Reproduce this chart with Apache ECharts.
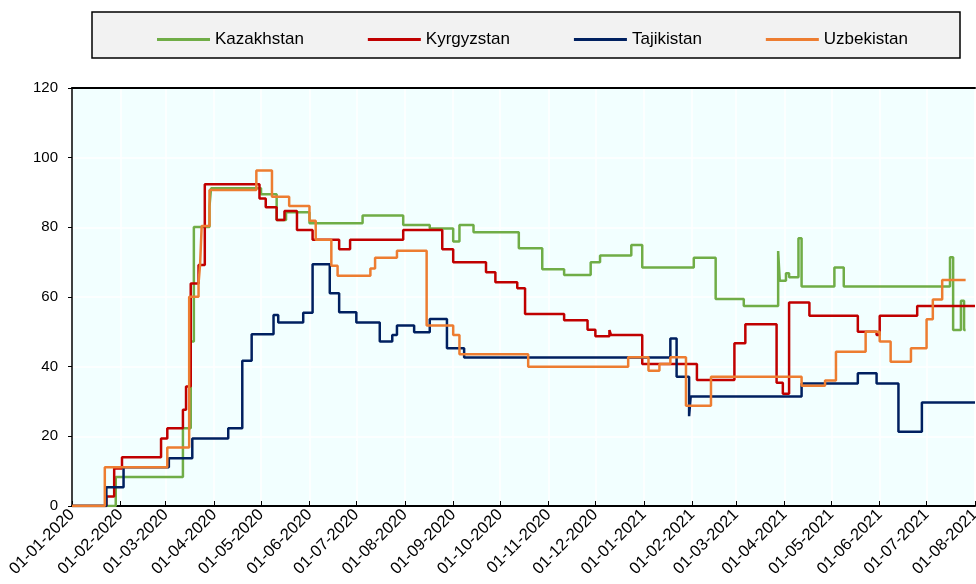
<!DOCTYPE html>
<html>
<head>
<meta charset="utf-8">
<script src="https://cdn.jsdelivr.net/npm/echarts@6/dist/echarts.min.js"></script>
<style>
  html, body { margin: 0; padding: 0; background: #fff; }
  #chart { width: 976px; height: 584px; }
</style>
</head>
<body>
<div id="chart"></div>
<script>
// change points: [date the value starts, value]; drawn as step lines
var kazakhstan = [
  ['2020-01-01', 0], ['2020-01-29', 8.3], ['2020-03-12', 22.3], ['2020-03-17', 47.2],
  ['2020-03-19', 80.1], ['2020-03-29', 86], ['2020-03-30', 91.2], ['2020-05-01', 89.5],
  ['2020-05-11', 82.1], ['2020-05-17', 84.3], ['2020-06-01', 81.2], ['2020-07-05', 83.4],
  ['2020-07-31', 80.7], ['2020-08-17', 79.7], ['2020-09-01', 75.9], ['2020-09-05', 80.7],
  ['2020-09-14', 78.6], ['2020-10-13', 74.0], ['2020-10-28', 68.0], ['2020-11-11', 66.3],
  ['2020-11-28', 70.0], ['2020-12-04', 71.9], ['2020-12-24', 74.9], ['2020-12-31', 68.5],
  ['2021-02-02', 71.3], ['2021-02-16', 59.4], ['2021-03-06', 57.4], ['2021-03-28', 73.2],
  ['2021-03-29', 64.7], ['2021-04-02', 66.8], ['2021-04-04', 65.7], ['2021-04-10', 76.9],
  ['2021-04-12', 63.0], ['2021-05-03', 68.5], ['2021-05-09', 63.0], ['2021-07-16', 71.4],
  ['2021-07-18', 50.5], ['2021-07-23', 58.9], ['2021-07-25', 50.5], ['2021-07-26', 50.5]
];
var kyrgyzstan = [
  ['2020-01-01', 0], ['2020-01-23', 2.7], ['2020-01-28', 10.8], ['2020-02-02', 14.0],
  ['2020-02-27', 19.4], ['2020-03-02', 22.3], ['2020-03-12', 27.6], ['2020-03-14', 34.3],
  ['2020-03-17', 63.9], ['2020-03-22', 69.2], ['2020-03-26', 92.4], ['2020-04-30', 88.3],
  ['2020-05-04', 85.8], ['2020-05-11', 82.1], ['2020-05-16', 84.7], ['2020-05-24', 79.2],
  ['2020-06-03', 76.4], ['2020-06-20', 73.7], ['2020-06-27', 76.4], ['2020-07-31', 79.2],
  ['2020-08-25', 73.7], ['2020-09-01', 70.0], ['2020-09-22', 67.1], ['2020-09-28', 64.2],
  ['2020-10-12', 62.5], ['2020-10-17', 55.1], ['2020-11-11', 53.3], ['2020-11-26', 50.6],
  ['2020-12-01', 48.7], ['2020-12-10', 50.5], ['2020-12-11', 49.1], ['2020-12-31', 40.8],
  ['2021-02-04', 36.2], ['2021-02-28', 46.7], ['2021-03-07', 52.2], ['2021-03-27', 35.4],
  ['2021-03-31', 32.2], ['2021-04-04', 58.4], ['2021-04-17', 54.6], ['2021-05-18', 50.0],
  ['2021-05-30', 49.1], ['2021-06-01', 54.6], ['2021-06-25', 57.4], ['2021-08-01', 57.4]
];
var tajikistan = [
  ['2020-01-01', 0], ['2020-01-23', 5.4], ['2020-02-03', 11.1], ['2020-03-03', 13.7],
  ['2020-03-18', 19.4], ['2020-04-10', 22.3], ['2020-04-19', 41.7], ['2020-04-25', 49.3],
  ['2020-05-09', 54.8], ['2020-05-12', 52.7], ['2020-05-28', 55.5], ['2020-06-03', 69.4],
  ['2020-06-14', 61.1], ['2020-06-20', 55.6], ['2020-07-01', 52.7], ['2020-07-16', 47.2],
  ['2020-07-24', 49.1], ['2020-07-27', 51.8], ['2020-08-07', 49.9], ['2020-08-17', 53.7],
  ['2020-08-28', 45.3], ['2020-09-08', 42.6], ['2021-01-18', 48.1], ['2021-01-22', 37.1],
  ['2021-01-30', 25.8], ['2021-01-31', 31.4], ['2021-04-12', 35.2], ['2021-05-18', 38.1],
  ['2021-05-30', 35.2], ['2021-06-13', 21.3], ['2021-06-28', 29.7], ['2021-08-01', 29.7]
];
var uzbekistan = [
  ['2020-01-01', 0], ['2020-01-22', 11.1], ['2020-03-02', 16.8], ['2020-03-16', 60.1],
  ['2020-03-22', 63.9], ['2020-03-23', 69.4], ['2020-03-24', 80.4], ['2020-03-29', 90.7],
  ['2020-04-28', 96.3], ['2020-05-08', 88.8], ['2020-05-19', 86.1], ['2020-06-01', 81.9],
  ['2020-06-05', 76.4], ['2020-06-15', 69.0], ['2020-06-19', 66.1], ['2020-07-10', 68.2],
  ['2020-07-13', 71.3], ['2020-07-27', 73.3], ['2020-08-15', 51.8], ['2020-09-01', 49.1],
  ['2020-09-05', 43.6], ['2020-10-19', 40.0], ['2020-12-22', 42.7], ['2021-01-04', 38.8],
  ['2021-01-11', 40.8], ['2021-01-18', 42.7], ['2021-01-28', 28.8], ['2021-02-13', 37.1],
  ['2021-04-12', 34.5], ['2021-04-27', 36.0], ['2021-05-04', 44.3], ['2021-05-23', 50.0],
  ['2021-06-01', 47.2], ['2021-06-08', 41.4], ['2021-06-21', 45.3], ['2021-07-01', 53.6],
  ['2021-07-05', 59.3], ['2021-07-11', 64.9], ['2021-07-26', 64.9]
];

var seriesNames = ['Kazakhstan', 'Kyrgyzstan', 'Tajikistan', 'Uzbekistan'];
var seriesData = [kazakhstan, kyrgyzstan, tajikistan, uzbekistan];
var colors = ['#70AD47', '#C00000', '#002060', '#ED7D31'];

var font = 'Liberation Sans, Arial, sans-serif';

function pad(n) { return n < 10 ? '0' + n : '' + n; }
function fmtDate(v) {
  var d = new Date(v);
  return pad(d.getDate()) + '-' + pad(d.getMonth() + 1) + '-' + d.getFullYear();
}

var chart = echarts.init(document.getElementById('chart'));

var option = {
  animation: false,
  color: colors,
  graphic: [{
    type: 'rect',
    z: 0,
    shape: { x: 92, y: 12, width: 868, height: 46 },
    style: { fill: '#F2F2F2', stroke: '#000', lineWidth: 1.5 }
  }],
  legend: {
    z: 10,
    top: 26,
    left: 152,
    itemGap: 64,
    itemWidth: 53,
    itemHeight: 3,
    icon: 'rect',
    textStyle: { fontFamily: font, fontSize: 17, color: '#000' },
    data: seriesNames
  },
  grid: {
    show: true,
    left: 72,
    right: 1,
    top: 88,
    bottom: 78,
    containLabel: false,
    outerBoundsMode: 'none',
    backgroundColor: '#F2FFFF',
    borderWidth: 0
  },
  xAxis: [{
    type: 'time',
    min: '2020-01-01',
    max: '2021-08-01',
    splitNumber: 19,
    minInterval: 28 * 86400000,
    maxInterval: 31 * 86400000,
    axisLine: { lineStyle: { color: '#000', width: 2 } },
    axisTick: { inside: true, length: 5, lineStyle: { color: '#000', width: 1 } },
    axisLabel: {
      rotate: 45,
      interval: 0,
      margin: 6,
      showMinLabel: true,
      showMaxLabel: true,
      hideOverlap: false,
      fontFamily: font,
      fontSize: 16.5,
      color: '#000',
      formatter: function (v) { return fmtDate(v); }
    },
    splitLine: { show: true, lineStyle: { color: '#FFFFFF', width: 1.5 } }
  }, {
    type: 'time',
    position: 'top',
    min: '2020-01-01',
    max: '2021-08-01',
    axisLine: { lineStyle: { color: '#000', width: 2 } },
    axisTick: { show: false },
    axisLabel: { show: false },
    splitLine: { show: false }
  }],
  yAxis: {
    type: 'value',
    min: 0,
    max: 120,
    interval: 20,
    axisLine: { show: true, lineStyle: { color: '#000', width: 1.5 } },
    axisTick: { show: true, length: 4, lineStyle: { color: '#000' } },
    axisLabel: { fontFamily: font, fontSize: 15, color: '#000', margin: 14 },
    splitLine: { lineStyle: { color: '#FFFFFF', width: 1.5 } }
  },
  series: seriesNames.map(function (name, i) {
    return {
      name: name,
      type: 'line',
      step: 'end',
      showSymbol: false,
      data: seriesData[i],
      lineStyle: { width: 2.5, color: colors[i] }
    };
  })
};

chart.setOption(option);
</script>
</body>
</html>
